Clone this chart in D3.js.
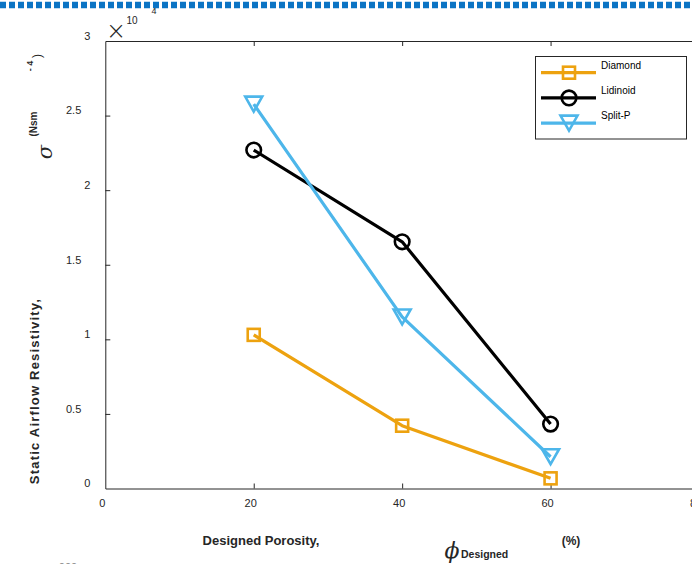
<!DOCTYPE html>
<html>
<head>
<meta charset="utf-8">
<script src="https://cdn.jsdelivr.net/npm/d3@7"></script>
<style>
  body { margin: 0; background: #fff; }
  svg { display: block; font-family: "Liberation Sans", Arial, sans-serif; }
  .tick text { fill: #262626; font-size: 11px; }
  .axis path, .axis line { stroke: #262626; }
</style>
</head>
<body>
<svg width="692" height="564"></svg>
<script>
var porosity   = [20, 40, 60],
    seriesName = ['Diamond', 'Lidinoid', 'Split-P'],
    diamond    = [10300, 4210, 680],
    lidinoid   = [22690, 16540, 4320],
    splitP     = [25770, 11500, 2130],
    xTicks     = [0, 20, 40, 60, 80],
    yTicks     = [0, 5000, 10000, 15000, 20000, 25000, 30000];

var colors  = ['#EDA20F', '#000000', '#4DB6EA'],
    symbols = ['square', 'circle', 'triangle'];

var svg = d3.select('svg');

var x = d3.scaleLinear().domain([0, 80]).range([105.3, 699]),
    y = d3.scaleLinear().domain([0, 30000]).range([488.5, 41]);

// dashed blue strip at the very top
svg.append('line')
  .attr('x1', 0).attr('x2', 692).attr('y1', 5).attr('y2', 5)
  .attr('stroke', '#0B74C4').attr('stroke-width', 6.5)
  .attr('stroke-dasharray', '6,3');

// axes
var xAxis = svg.append('g').attr('class', 'axis')
  .attr('transform', 'translate(0,' + y(0) + ')')
  .call(d3.axisBottom(x).tickValues(xTicks).tickSizeInner(-5).tickSizeOuter(0).tickPadding(11));
xAxis.selectAll('.tick text').attr('dx', -3.5);
xAxis.selectAll('.tick').filter(function(d) { return d === 0; }).select('line').remove();

svg.append('g').attr('class', 'axis')
  .attr('transform', 'translate(0,' + y(30000) + ')')
  .call(d3.axisTop(x).tickValues([20, 40, 60]).tickSizeInner(-5).tickSizeOuter(0).tickFormat(''));

var yAxis = svg.append('g').attr('class', 'axis')
  .attr('transform', 'translate(' + x(0) + ',0)')
  .call(d3.axisLeft(y).tickValues(yTicks).tickSizeInner(-5).tickSizeOuter(0).tickPadding(15)
    .tickFormat(function(d) { return d3.format('~g')(d / 1e4); }));
yAxis.selectAll('.tick text')
  .attr('dy', '-0.15em')
  .attr('dx', function(d) { return (d / 1e4) % 1 ? -9 : 0; });
yAxis.selectAll('.tick').filter(function(d) { return d === 0 || d === 30000; }).select('line').remove();

// exponent
svg.append('text').attr('x', 116).attr('y', 39).attr('text-anchor', 'middle')
  .attr('font-size', 24).attr('font-weight', 200).attr('font-family', '"DejaVu Sans", sans-serif')
  .attr('fill', '#262626').text('\u00d7');
svg.append('text').attr('x', 132).attr('y', 24).attr('text-anchor', 'middle')
  .attr('font-size', 10).attr('fill', '#262626').text('10');
svg.append('text').attr('x', 154).attr('y', 14).attr('text-anchor', 'middle')
  .attr('font-size', 9).attr('fill', '#262626').text('4');

// series
var series = [diamond, lidinoid, splitP];
var line = d3.line().x(function(d, i) { return x(porosity[i]); }).y(function(d) { return y(d); });

function marker(g, type, color, cx, cy) {
  if (type === 'square') {
    g.append('rect').attr('x', cx - 6).attr('y', cy - 6).attr('width', 12).attr('height', 12);
  } else if (type === 'circle') {
    g.append('circle').attr('cx', cx).attr('cy', cy).attr('r', 7.3);
  } else {
    g.append('path').attr('d', d3.line()([[cx - 8.5, cy - 7.5], [cx + 8.5, cy - 7.5], [cx, cy + 7.5]]) + 'Z');
  }
  g.selectAll('*').attr('fill', 'none').attr('stroke', color).attr('stroke-width', 2.6);
}

series.forEach(function(s, k) {
  var g = svg.append('g');
  g.append('path').attr('d', line(s)).attr('fill', 'none')
    .attr('stroke', colors[k]).attr('stroke-width', 3.2).attr('stroke-linejoin', 'round');
  s.forEach(function(v, i) {
    marker(g.append('g'), symbols[k], colors[k], x(porosity[i]), y(v));
  });
});

// legend
var lg = svg.append('g');
lg.append('rect').attr('x', 535.5).attr('y', 56.5).attr('width', 151).attr('height', 82.5)
  .attr('fill', '#fff').attr('stroke', '#262626').attr('stroke-width', 1);
seriesName.forEach(function(name, k) {
  var ly = 72.7 + k * 25.2;
  lg.append('line').attr('x1', 541).attr('x2', 596).attr('y1', ly).attr('y2', ly)
    .attr('stroke', colors[k]).attr('stroke-width', 3.2);
  marker(lg.append('g'), symbols[k], colors[k], 569, ly);
  lg.append('text').attr('x', 601).attr('y', ly - 4).attr('font-size', 10).attr('fill', '#000').text(name);
});

// y label fragments
function vtext(tx, ty, str, size, weight, family, style) {
  return svg.append('text')
    .attr('transform', 'translate(' + tx + ',' + ty + ') rotate(-90)')
    .attr('text-anchor', 'middle').attr('font-size', size).attr('font-weight', weight || 'normal')
    .attr('font-family', family || null).attr('font-style', style || null)
    .attr('fill', '#262626').text(str);
}
vtext(39, 391, 'Static Airflow Resistivity,', 13, 'bold').attr('letter-spacing', 1.2);
vtext(52, 152, '\u03c3', 21, 'normal', '"DejaVu Serif", serif', 'italic');
vtext(37, 124, '(Nsm', 10, 'bold');
vtext(33, 66, '- 4', 9, 'bold');
vtext(41, 56, ')', 12, 'normal');

// x label fragments
svg.append('text').attr('x', 261).attr('y', 545).attr('text-anchor', 'middle')
  .attr('font-size', 13).attr('font-weight', 'bold').attr('fill', '#262626').text('Designed Porosity,');
svg.append('text').attr('x', 452).attr('y', 558).attr('text-anchor', 'middle')
  .attr('font-size', 22).attr('font-style', 'italic').attr('font-family', '"DejaVu Serif", serif')
  .attr('fill', '#262626').text('\u03d5');
svg.append('text').attr('x', 461).attr('y', 558)
  .attr('font-size', 10.5).attr('font-weight', 'bold').attr('fill', '#262626').text('Designed');
svg.append('text').attr('x', 571).attr('y', 545).attr('text-anchor', 'middle')
  .attr('font-size', 12).attr('font-weight', 'bold').attr('fill', '#262626').text('(%)');

// cut-off text at the bottom edge
svg.append('text').attr('x', 68).attr('y', 571).attr('text-anchor', 'middle')
  .attr('font-size', 11).attr('fill', '#888').text('000');
</script>
</body>
</html>
